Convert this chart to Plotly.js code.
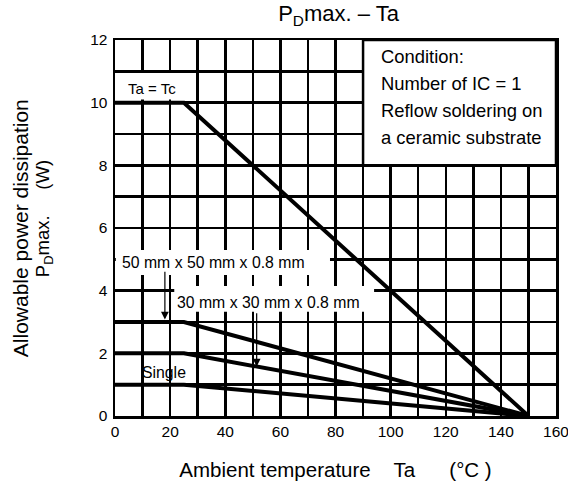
<!DOCTYPE html>
<html>
<head>
<meta charset="utf-8">
<script src="https://cdn.plot.ly/plotly-3.0.1.min.js"></script>
<style>html,body{margin:0;padding:0;background:#fff;}#chart{width:568px;height:489px;}</style>
</head>
<body>
<div id="chart"></div>
<script>
// Data
const ambientTemp = [0, 25, 150];
const pdTaTc = [10, 10, 0];
const pd50mm = [3, 3, 0];
const pd30mm = [2, 2, 0];
const pdSingle = [1, 1, 0];
const seriesNames = ['Ta = Tc', '50 mm x 50 mm x 0.8 mm', '30 mm x 30 mm x 0.8 mm', 'Single'];
const xTickVals = [0, 20, 40, 60, 80, 100, 120, 140, 160];
const yTickVals = [0, 2, 4, 6, 8, 10, 12];
const conditionLines = ['Condition:', 'Number of IC = 1', 'Reflow soldering on', 'a ceramic substrate'];

const FONT = 'Liberation Sans, Arial, sans-serif';
const lineStyle = {color: '#000', width: 4};
const traces = [pdTaTc, pd50mm, pd30mm, pdSingle].map((ys, i) => ({
  x: ambientTemp, y: ys, type: 'scatter', mode: 'lines', name: seriesNames[i],
  line: lineStyle, hoverinfo: 'skip'
}));

const whiteBox = (x0, x1, y0, y1, border) => ({
  type: 'rect', xref: 'x', yref: 'y', x0, x1, y0, y1, layer: 'above',
  fillcolor: '#fff', line: {color: '#000', width: border ? 2.5 : 0}
});

const txt = (text, x, y, size, anchor) => ({
  text, x, y, xref: 'x', yref: 'y', showarrow: false, xanchor: anchor || 'left',
  yanchor: 'middle', font: {family: FONT, size: size, color: '#000'}
});

const condY = [11.47, 10.6, 9.74, 8.88];
const annotations = [
  txt(seriesNames[0], 13.6, 10.45, 15, 'center'),
  txt(seriesNames[1], 1.8, 4.9, 15.8),
  txt(seriesNames[2], 21.8, 3.63, 15.8),
  txt(seriesNames[3], 17.7, 1.4, 15.8, 'center'),
  ...conditionLines.map((t, i) => txt(t, 95.6, condY[i], 18.4)),
  {text: '', x: 18.1, y: 3.08, ax: 18.1, ay: 4.65, xref: 'x', yref: 'y', axref: 'x', ayref: 'y',
   showarrow: true, arrowhead: 2, arrowsize: 1.3, arrowwidth: 1.2, arrowcolor: '#000', standoff: 0},
  {text: '', x: 51.4, y: 1.58, ax: 51.4, ay: 3.33, xref: 'x', yref: 'y', axref: 'x', ayref: 'y',
   showarrow: true, arrowhead: 2, arrowsize: 1.3, arrowwidth: 1.2, arrowcolor: '#000', standoff: 0},
  {text: 'Allowable power dissipation', xref: 'paper', yref: 'paper', x: -0.215, y: 0.5,
   textangle: -90, showarrow: false, xanchor: 'center', yanchor: 'middle',
   font: {family: FONT, size: 21, color: '#000'}},
  {text: 'P<sub>D</sub>max.\u00a0\u00a0\u00a0\u00a0\u00a0(W)', xref: 'paper', yref: 'paper', x: -0.162, y: 0.525,
   textangle: -90, showarrow: false, xanchor: 'center', yanchor: 'middle',
   font: {family: FONT, size: 18.5, color: '#000'}}
];

const layout = {
  width: 568, height: 489,
  margin: {l: 115, r: 12, t: 40, b: 73},
  paper_bgcolor: '#fff', plot_bgcolor: '#fff',
  showlegend: false,
  font: {family: FONT, color: '#000'},
  title: {text: 'P<sub>D</sub>max. – Ta', x: 0.596, xanchor: 'center', y: 0.972, yanchor: 'middle', yref: 'container',
          font: {family: FONT, size: 22, color: '#000'}},
  xaxis: {
    range: [0, 160], tickvals: xTickVals, ticktext: xTickVals.map(String),
    showgrid: true, gridcolor: 'black', gridwidth: 2.5,
    minor: {dtick: 10, showgrid: true, gridcolor: 'black', gridwidth: 2.5, ticks: ''},
    showline: true, linecolor: '#000', linewidth: 2.5, mirror: true,
    ticks: '', ticklabeloverflow: 'allow',
    tickfont: {family: FONT, size: 15.5, color: '#000'}, zeroline: false, fixedrange: true,
    title: {text: 'Ambient temperature\u00a0\u00a0\u00a0\u00a0Ta\u00a0\u00a0\u00a0\u00a0\u00a0\u00a0(°C )', standoff: 24,
            font: {family: FONT, size: 20.5, color: '#000'}}
  },
  yaxis: {
    range: [0, 12], tickvals: yTickVals, ticktext: yTickVals.map(String),
    showgrid: true, gridcolor: 'black', gridwidth: 2.5,
    minor: {dtick: 1, showgrid: true, gridcolor: 'black', gridwidth: 2.5, ticks: ''},
    showline: true, linecolor: '#000', linewidth: 2.5, mirror: true,
    ticks: 'outside', ticklen: 2, tickcolor: 'rgba(0,0,0,0)',
    tickfont: {family: FONT, size: 15.5, color: '#000'}, zeroline: false, fixedrange: true
  },
  shapes: [
    whiteBox(0.3, 27, 10.1, 10.95, false),
    whiteBox(0.3, 78, 4.5, 5.3, false),
    whiteBox(21.5, 94, 3.33, 4.15, false),
    whiteBox(90, 160, 8, 12, true)
  ],
  annotations: annotations
};

Plotly.newPlot('chart', traces, layout, {staticPlot: true, displayModeBar: false});
</script>
</body>
</html>
